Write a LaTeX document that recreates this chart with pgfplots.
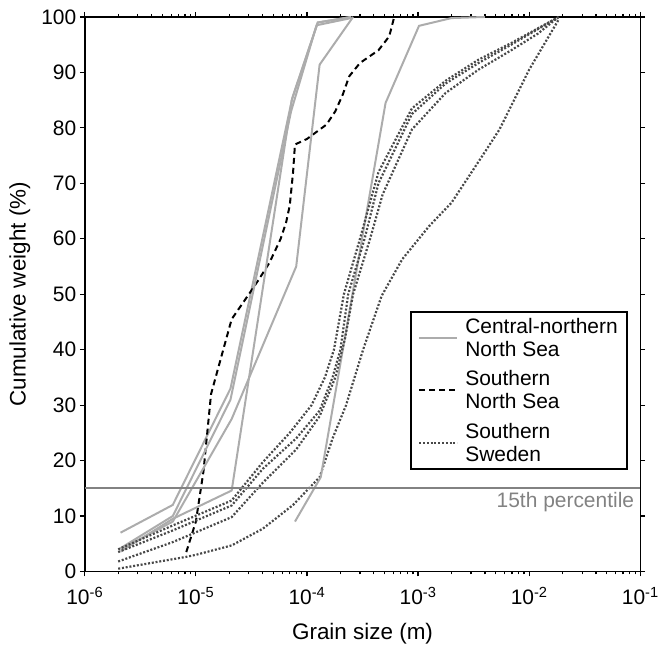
\documentclass[border=0pt]{standalone}
\usepackage{pgfplots}
\pgfplotsset{compat=1.18}
\usepackage{fontspec}
\setmainfont{Liberation Sans}
\definecolor{lgray}{RGB}{172,172,172}
\definecolor{dgray}{RGB}{72,72,72}
\definecolor{mgray}{RGB}{130,130,130}
\begin{document}
\begin{tikzpicture}
\begin{axis}[
  xmode=log, xmin=1e-6, xmax=1e-1, ymin=0, ymax=100,
  width=557bp, height=556bp, scale only axis,
  xtick={1e-6,1e-5,1e-4,1e-3,1e-2,1e-1},
  xticklabels={10\textsuperscript{-6},10\textsuperscript{-5},10\textsuperscript{-4},10\textsuperscript{-3},10\textsuperscript{-2},10\textsuperscript{-1}},
  ytick={0,10,...,100},
  tick align=outside,
  major tick length=5bp, minor tick length=3bp,
  axis line style={line width=1.5bp, black},
  every tick/.style={black, line width=1.2bp},
  /pgf/number format/assume math mode=true,
  tick label style={font=\fontsize{21bp}{24bp}\selectfont},
  xticklabel style={yshift=-7bp},
  xlabel={Grain size (m)}, ylabel={Cumulative weight (\%)},
  label style={font=\fontsize{22.5bp}{26bp}\selectfont},
  xlabel style={at={(axis description cs:0.5,-0.113)}, anchor=center},
  ylabel style={at={(axis description cs:-0.117,0.5)}, anchor=center},
  legend cell align=left,
  legend image code/.code={\draw[#1] (0bp,0bp) -- (38bp,0bp);},
  legend style={at={(rel axis cs:0.977,0.469)}, anchor=north east, draw=black, line width=1.5bp,
    font=\fontsize{21bp}{23bp}\selectfont, cells={align=left}, row sep=9bp,
    inner xsep=7bp, inner ysep=4bp, column sep=5bp},
  clip=false,
]
% Central-northern North Sea
\addplot[lgray, line width=2bp] coordinates {(2.1e-6,7) (6.2e-6,12) (2.05e-5,33) (7.4e-5,85.5) (1.25e-4,99) (2.5e-4,100)};
\addlegendentry{Central-northern\\North Sea}
% Southern North Sea
\addplot[black, line width=2bp, dash pattern=on 6bp off 4bp] coordinates {(8.2e-6,3.5) (1.0e-5,9) (1.17e-5,18) (1.37e-5,32) (2.1e-5,45.5) (3.0e-5,50) (3.7e-5,52.7) (4.6e-5,55.7) (5.8e-5,60) (6.5e-5,63) (7.0e-5,66) (7.5e-5,72) (7.8e-5,77) (1.0e-4,78) (1.5e-4,80.6) (1.8e-4,83) (2.1e-4,86) (2.4e-4,89.3) (3.0e-4,91.7) (4.4e-4,94) (5.5e-4,96.5) (6.1e-4,100)};
\addlegendentry{Southern\\North Sea}
% Southern Sweden
\addplot[dgray, line width=2.2bp, dash pattern=on 2bp off 1.8bp] coordinates {(2e-6,0.5) (8e-6,2.6) (1e-5,3) (2.1e-5,4.7) (4e-5,7.7) (7.5e-5,12) (1.3e-4,17) (1.7e-4,24) (2.25e-4,30) (3.2e-4,40) (4.7e-4,49.7) (7.2e-4,56.3) (1.26e-3,62.3) (2e-3,66.5) (4.1e-3,76) (5.4e-3,79.7) (1e-2,90.5) (1.84e-2,99.5)};
\addlegendentry{Southern\\Sweden}
% more gray
\addplot[lgray, line width=2bp, forget plot] coordinates {(2.1e-6,4.2) (6.2e-6,10) (2.05e-5,31) (7.2e-5,83) (1.22e-4,98.5) (2.5e-4,99.8)};
\addplot[lgray, line width=2bp, forget plot] coordinates {(2.1e-6,4) (6.2e-6,9) (2.1e-5,27.5) (8e-5,55) (1.3e-4,91.4) (2.6e-4,100)};
\addplot[lgray, line width=2bp, forget plot] coordinates {(2.1e-6,3.6) (6.2e-6,9.5) (2.1e-5,14.6) (7.3e-5,85) (1.25e-4,99) (2.5e-4,100)};
\addplot[lgray, line width=2bp, forget plot] coordinates {(7.8e-5,9) (1.33e-4,17) (5.1e-4,84.5) (1.02e-3,98.4) (2e-3,99.8) (4e-3,100)};
% more dotted
\addplot[dgray, line width=2.2bp, dash pattern=on 2bp off 1.8bp, forget plot] coordinates {(2e-6,4) (6.2e-6,8.3) (2.1e-5,12.8) (4e-5,19.7) (7e-5,25) (1.1e-4,30) (1.45e-4,35) (1.75e-4,40) (2.15e-4,50) (3e-4,60) (4.4e-4,72) (8.8e-4,83.5) (1.77e-3,88.5) (3.5e-3,92.3) (6.9e-3,95.3) (1.84e-2,100)};
\addplot[dgray, line width=2.2bp, dash pattern=on 2bp off 1.8bp, forget plot] coordinates {(2e-6,3.5) (6.2e-6,7.4) (2.1e-5,11.9) (4e-5,18.5) (8e-5,24) (1.3e-4,29) (1.7e-4,35) (2e-4,40) (2.35e-4,50) (3.3e-4,60) (4.4e-4,70) (8.8e-4,82.5) (1.77e-3,88) (3.5e-3,91.7) (6.9e-3,95) (1.84e-2,100)};
\addplot[dgray, line width=2.2bp, dash pattern=on 2bp off 1.8bp, forget plot] coordinates {(2e-6,1.8) (6.2e-6,5.3) (2.1e-5,9.8) (4e-5,16) (8e-5,22) (1.3e-4,28) (1.8e-4,35) (2.2e-4,42) (2.6e-4,50) (3.7e-4,60) (4.8e-4,68) (8.8e-4,79.7) (1.77e-3,86.3) (3.5e-3,90.5) (6.9e-3,94) (1.2e-2,97) (1.84e-2,100)};
% 15th percentile
\addplot[mgray, line width=1.8bp, forget plot] coordinates {(1e-6,15) (1e-1,15)};
\node[anchor=north east, inner sep=0pt, text=mgray, font=\fontsize{21bp}{24bp}\selectfont, xshift=-6bp, yshift=-4bp] at (axis cs:1e-1,15) {15th percentile};
\coordinate (bl) at (rel axis cs:-0.1526,-0.1385);
\coordinate (tr) at (rel axis cs:1.0359,1.0306);
\end{axis}
\path (bl) rectangle (tr);
\end{tikzpicture}
\end{document}
